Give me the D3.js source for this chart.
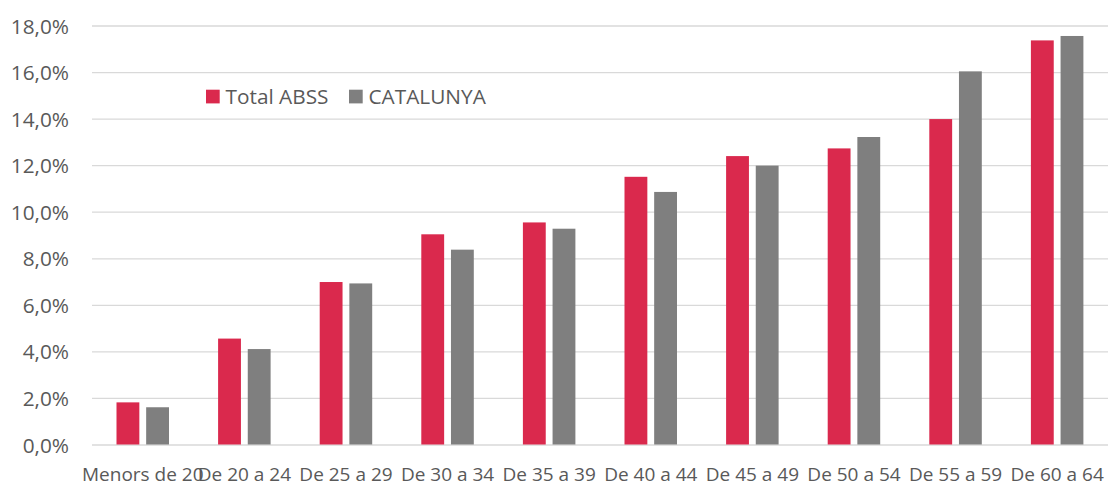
<!DOCTYPE html>
<html><head><meta charset="utf-8">
<script src="https://cdn.jsdelivr.net/npm/d3@7"></script>
<style>body{margin:0;background:#fff}svg{display:block}</style>
</head><body>
<script>
const categories = ["Menors de 20","De 20 a 24","De 25 a 29","De 30 a 34","De 35 a 39","De 40 a 44","De 45 a 49","De 50 a 54","De 55 a 59","De 60 a 64"];
const seriesNames = ["Total ABSS","CATALUNYA"];
const totalABSS = [1.81,4.55,6.98,9.03,9.54,11.50,12.39,12.72,13.98,17.36];
const catalunya = [1.60,4.10,6.92,8.37,9.27,10.85,11.98,13.21,16.03,17.55];
const yTicks = [0,2,4,6,8,10,12,14,16,18];
const colors = ["#DA294D","#7F7F7F"];

const W=1110,H=486;
const svg=d3.select("body").append("svg").attr("width",W).attr("height",H);
const font="'Open Sans', 'Noto Sans', sans-serif";
const fsX="19px", fsY="20.8px", fsL="20.8px";
const x=d3.scaleBand().domain(categories).range([92,1108]).paddingInner(0).paddingOuter(0);
const y=d3.scaleLinear().domain([0,18]).range([444.5,25.5]);
const xs=d3.scaleBand().domain(seriesNames).range([24.5,77]).paddingInner(0.23);

// gridlines
const yAxis=d3.axisLeft(y).tickValues(yTicks).tickSize(-(1108-92)).tickFormat(d=>d3.format(".1f")(d).replace(".",",")+"%");
const ga=svg.append("g").attr("transform","translate(92,0)").call(yAxis);
ga.select(".domain").remove();
ga.selectAll(".tick line").attr("stroke","#D9D9D9").attr("stroke-width",1.3);
ga.selectAll(".tick text").attr("x",-23).attr("dy","0.36em").attr("fill","#595959").style("font-family",font).style("font-size",fsY);

const data=[totalABSS,catalunya];
seriesNames.forEach((s,i)=>{
  svg.append("g").selectAll("rect").data(categories).join("rect")
    .attr("x",d=>x(d)+xs(s))
    .attr("width",xs.bandwidth())
    .attr("y",(d,j)=>y(data[i][j]))
    .attr("height",(d,j)=>y(0)-y(data[i][j]))
    .attr("fill",colors[i]);
});

// x axis labels
const xAxis=d3.axisBottom(x).tickSize(0);
const gx=svg.append("g").attr("transform","translate(0,444.5)").call(xAxis);
gx.select(".domain").remove();
gx.selectAll(".tick text").attr("y",23).attr("fill","#595959").style("font-family",font).style("font-size",fsX);

// legend
const lg=svg.append("g");
const lx=[206,349];
seriesNames.forEach((s,i)=>{
  lg.append("rect").attr("x",lx[i]).attr("y",89.7).attr("width",13.7).attr("height",13.7).attr("fill",colors[i]);
  lg.append("text").attr("x",lx[i]+19.5).attr("y",104).text(s).attr("fill","#595959").style("font-family",font).style("font-size",fsL);
});
</script>
</body></html>
